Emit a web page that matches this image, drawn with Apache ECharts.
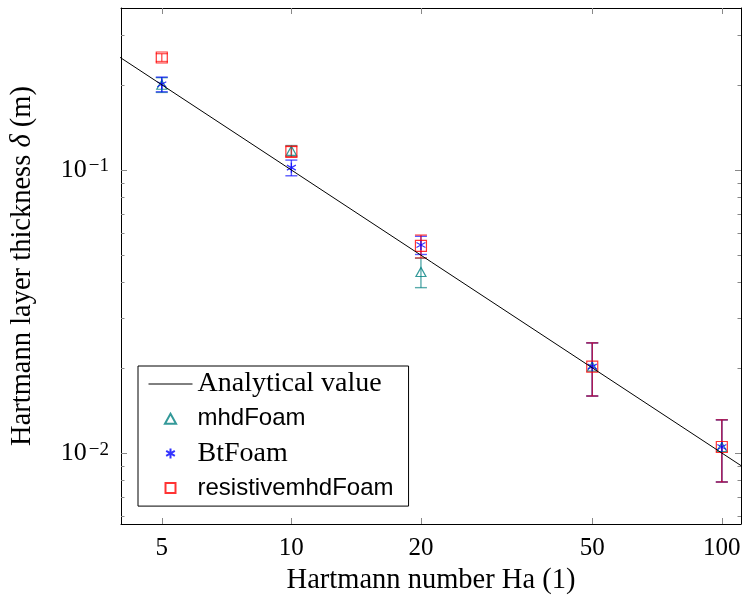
<!DOCTYPE html>
<html>
<head>
<meta charset="utf-8">
<script src="https://cdn.jsdelivr.net/npm/echarts@6/dist/echarts.min.js"></script>
<style>html,body{margin:0;padding:0;background:#fff;}#c{width:745px;height:601px;}</style>
</head>
<body>
<div id="c"></div>
<script>
// ---- data ----
const ha = [5, 10, 20, 50, 100];
const mhdFoam = [0.2, 0.117, 0.0436, 0.0202, 0.0105];
const mhdFoamErr = [0.012, 0.005, 0.0052, 0.0043, 0.0026];
const btFoam = [0.2009, 0.1019, 0.0543, 0.0202, 0.0105];
const btFoamErr = [0.012, 0.0065, 0.004, 0.0043, 0.0026];
const resistive = [0.2497, 0.1161, 0.0539, 0.0202, 0.0105];
const resistiveErr = [0.008, 0.005, 0.005, 0.0043, 0.0026];
const analyticHa = [4, 120];
const analyticDelta = [0.25, 0.008333];
const xTicks = [5, 10, 20, 50, 100];
const yMajorTicks = [0.01, 0.1];
const yMinorTicks = [0.006, 0.007, 0.008, 0.009, 0.02, 0.03, 0.04, 0.05, 0.06, 0.07, 0.08, 0.09, 0.2, 0.3];
const xRange = [4.02, 110.8];
const yRange = [0.005613, 0.3736];

const lg = v => Math.log10(v);
const SERIF = 'Liberation Serif';
const SANS = 'Liberation Sans';
const TICK = '#888';
const TRI = 'path://M5,0L10,9L0,9Z';
const SQR = 'path://M0,0L10,0L10,10L0,10Z';
const AST = 'path://M0,-10L0,10M-8.66,-5L8.66,5M-8.66,5L8.66,-5';

function pts(xs, ys) { return xs.map((x, i) => [lg(x), lg(ys[i])]); }
function errPts(xs, ys, es) { return xs.map((x, i) => [lg(x), lg(ys[i] - es[i]), lg(ys[i] + es[i])]); }

function errSeries(name, data, color) {
  return {
    type: 'custom', name: name, data: data, xAxisIndex: 0, yAxisIndex: 0,
    encode: { x: 0, y: [1, 2] }, silent: true,
    renderItem: function (params, api) {
      const x = api.value(0);
      const p1 = api.coord([x, api.value(1)]);
      const p2 = api.coord([x, api.value(2)]);
      const hw = 6;
      const st = { stroke: color, lineWidth: 1.4, opacity: 0.65 };
      return { type: 'group', children: [
        { type: 'line', shape: { x1: p1[0], y1: p1[1], x2: p2[0], y2: p2[1] }, style: st },
        { type: 'line', shape: { x1: p1[0] - hw, y1: p1[1], x2: p1[0] + hw, y2: p1[1] }, style: st },
        { type: 'line', shape: { x1: p2[0] - hw, y1: p2[1], x2: p2[0] + hw, y2: p2[1] }, style: st }
      ]};
    }
  };
}

function xAxisDef(pos, main) {
  return {
    type: 'value', position: pos, min: lg(xRange[0]), max: lg(xRange[1]),
    axisLine: { show: true, onZero: false, lineStyle: { color: '#000', width: 1 } },
    axisTick: { show: true, inside: true, length: 6, customValues: xTicks.map(lg), lineStyle: { color: TICK, width: 1 } },
    axisLabel: main ? {
      show: true, customValues: xTicks.map(lg), margin: 12, color: '#000',
      fontFamily: SERIF, fontSize: 25,
      formatter: v => String(Math.round(Math.pow(10, v)))
    } : { show: false },
    splitLine: { show: false },
    name: main ? 'Hartmann number Ha (1)' : '', nameLocation: 'middle', nameGap: 41,
    nameTextStyle: { fontFamily: SERIF, fontSize: 28.5, color: '#000' }
  };
}
function yAxisDef(pos, main, minor) {
  const vals = (minor ? yMinorTicks : yMajorTicks).map(lg);
  return {
    type: 'value', position: pos, min: lg(yRange[0]), max: lg(yRange[1]),
    axisLine: { show: !minor, onZero: false, lineStyle: { color: '#000', width: 1 } },
    axisTick: { show: true, inside: true, length: minor ? 3.5 : 6, customValues: vals, lineStyle: { color: TICK, width: 1 } },
    axisLabel: (main && !minor) ? {
      show: true, customValues: vals, margin: 12, color: '#000',
      formatter: v => '{b|10}{s|\u2212' + Math.round(-v) + '}',
      rich: {
        b: { fontFamily: SERIF, fontSize: 26, lineHeight: 26, verticalAlign: 'bottom', color: '#000' },
        s: { fontFamily: SERIF, fontSize: 19, lineHeight: 19, verticalAlign: 'top', padding: [0, 0, 10, 2], color: '#000' }
      }
    } : { show: false },
    splitLine: { show: false },
    name: (main && !minor) ? 'Hartmann layer thickness {i|\u03b4} (m)' : '',
    nameLocation: 'middle', nameGap: 84,
    nameTextStyle: {
      fontFamily: SERIF, fontSize: 28.5, color: '#000',
      rich: { i: { fontFamily: SERIF, fontStyle: 'italic', fontSize: 28.5, color: '#000' } }
    }
  };
}

const chart = echarts.init(document.getElementById('c'), null, { renderer: 'canvas' });
chart.setOption({
  animation: false,
  backgroundColor: '#fff',
  grid: { left: 120, top: 8, right: 4, bottom: 77, containLabel: false },
  xAxis: [xAxisDef('bottom', true), xAxisDef('top', false)],
  yAxis: [yAxisDef('left', true, false), yAxisDef('right', false, false), yAxisDef('left', false, true), yAxisDef('right', false, true)],
  legend: {
    orient: 'vertical', left: 138, top: 366,
    itemWidth: 44, itemHeight: 10, itemGap: 4.7,
    padding: [3, 15, 3, 10],
    borderColor: '#000', borderWidth: 1, backgroundColor: '#fff',
    textStyle: { color: '#000', lineHeight: 30 },
    selectedMode: false, symbolKeepAspect: true,
    data: [
      { name: 'Analytical value', itemStyle: { opacity: 0 }, lineStyle: { width: 1, color: '#000' }, textStyle: { fontFamily: SERIF, fontSize: 28 } },
      { name: 'mhdFoam', textStyle: { fontFamily: SANS, fontSize: 24 } },
      { name: 'BtFoam', textStyle: { fontFamily: SERIF, fontSize: 28 } },
      { name: 'resistivemhdFoam', textStyle: { fontFamily: SANS, fontSize: 24 } }
    ]
  },
  series: [
    { type: 'line', name: 'Analytical value', data: pts(analyticHa, analyticDelta), symbol: 'none',
      lineStyle: { color: '#000', width: 1 }, itemStyle: { color: '#000' }, clip: true, silent: true },
    errSeries('mhdFoam-err', errPts(ha, mhdFoam, mhdFoamErr), '#008080'),
    { type: 'scatter', name: 'mhdFoam', data: pts(ha, mhdFoam), symbol: TRI, symbolSize: [10, 9],
      itemStyle: { color: 'none', borderColor: '#008080', borderWidth: 1.2 } },
    errSeries('BtFoam-err', errPts(ha, btFoam, btFoamErr), '#0000ff'),
    { type: 'scatter', name: 'BtFoam', data: pts(ha, btFoam), symbol: AST, symbolSize: [9, 10],
      itemStyle: { color: 'none', borderColor: '#0000ff', borderWidth: 1.2 } },
    errSeries('resistivemhdFoam-err', errPts(ha, resistive, resistiveErr), '#ff0000'),
    { type: 'scatter', name: 'resistivemhdFoam', data: pts(ha, resistive), symbol: SQR, symbolSize: 11,
      itemStyle: { color: 'none', borderColor: '#ff0000', borderWidth: 1.2 } }
  ]
});
</script>
</body>
</html>
